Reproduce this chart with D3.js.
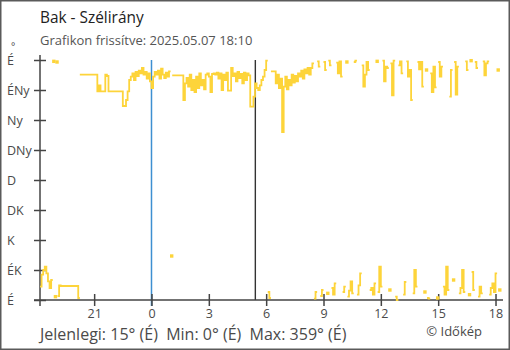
<!DOCTYPE html>
<html>
<head>
<meta charset="utf-8">
<script src="https://cdn.jsdelivr.net/npm/d3@7/dist/d3.min.js"></script>
<style>
  html, body { margin: 0; padding: 0; background: #fff; }
  svg { display: block; font-family: "Open Sans", "Noto Sans", sans-serif; }
</style>
</head>
<body>
<script>
// Station and time frame
const stationName = "Bak";
const updatedAt = "2025.05.07 18:10";
const seriesStart = "2025-05-06 18:10";
const seriesEnd = "2025-05-07 18:10";
const stepMinutes = 5;

// Wind direction (degrees), one reading every 5 minutes
// 18:10 – 23:55
const eveningDir = [20, 38, 45, 50, 40, 28, 18, 30, 358, 5, 357, 6, 22,
  21, 21, 21, 21, 21, 21, 21, 21, 21, 21, 21, 3,
  338, 338, 338, 338, 338, 338, 338, 338, 338, 338, 338,
  313, 322, 313, 313, 313, 338, 336,
  313, 313, 313, 313, 313, 313, 313, 313, 313,
  291, 291, 300, 313, 330, 335, 340, 330, 342, 336, 344, 340, 348, 338, 342, 332, 340, 328];
// 00:00 – 05:55
const nightDir = [318, 335, 342, 338, 344, 332, 347, 338, 333, 341, 335, 343, 66,
  337, 337, 337, 337, 337, 337, 337,
  300, 325, 333, 320, 338, 315, 330, 312, 335, 318, 340, 322, 330, 316, 338, 340, 335, 312,
  339, 340, 338, 341, 332, 340, 315, 338, 330, 341, 314, 314, 348,
  336, 340, 328, 342, 333, 339, 325, 341, 330, 340, 337,
  290, 290, 305, 325, 318, 315, 322, 330, 335, 345];
// 06:00 – 11:55
const morningDir = [359, 12, 3, 343, 343, 343,
  325, 338, 318, 332, 252, 320, 335, 316, 330, 322, 338, 326, 336, 328, 340, 335, 344, 332, 346, 340, 348, 338,
  348, 355, 2, 12, 358, 350, 6, 15, 357, 345, 10, 359, 352, 18, 8, 25, 356, 340, 358, 335,
  12, 20, 357, 5, 14, 28, 10, 357, 359, 8, 22, 40, 352, 320, 338, 357, 345, 15, 18, 8, 25, 358, 12, 50];
// 12:00 – 18:10
const afternoonDir = [20, 359, 328, 350, 348, 15, 355, 307, 359, 5, 0, 352, 358, 340, 8, 27, 358, 335, 345, 300,
  10, 45, 20, 357, 346, 357, 320, 12, 345, 3, 2, 340, 312, 350, 319, 3, 357, 335, 350, 20,
  8, 50, 15, 305, 345, 30, 357, 308, 350, 10, 18, 45, 12, 358, 345, 8, 359, 42, 15, 357,
  348, 5, 20, 10, 358, 337, 355, 358, 8, 18, 25, 12, 40, 345, 15];

// Axis ticks
const compassTicks = [0, 45, 90, 135, 180, 225, 270, 315, 360];
const compassLabels = ["É", "ÉK", "K", "DK", "D", "DNy", "Ny", "ÉNy", "É"];
const hourTicks = ["2025-05-06 21:00", "2025-05-07 00:00", "2025-05-07 03:00", "2025-05-07 06:00",
  "2025-05-07 09:00", "2025-05-07 12:00", "2025-05-07 15:00", "2025-05-07 18:00"];

// Vertical markers: midnight and sunrise
const midnight = "2025-05-07 00:00";
const sunrise = "2025-05-07 05:26";

const W = 510, H = 350;
const parse = d3.timeParse("%Y-%m-%d %H:%M");
const t0 = parse(seriesStart), t1 = parse(seriesEnd);
const directions = [].concat(eveningDir, nightDir, morningDir, afternoonDir);
const samples = directions.map((v, i) => ({ t: d3.timeMinute.offset(t0, i * stepMinutes), v }));

const x = d3.scaleTime().domain([t0, t1]).range([40, 498.7]);
const y = d3.scaleLinear().domain([0, 360]).range([300, 60]);

const textCol = "#4a4a4a";
const axisCol = "#444";
const lineCol = "#fdd43a";

const svg = d3.select("body").append("svg").attr("width", W).attr("height", H);

// frame
svg.append("rect").attr("x", 0.75).attr("y", 0.75).attr("width", W - 1.5).attr("height", H - 1.5)
  .attr("fill", "#fff").attr("stroke", "#5a5a5a").attr("stroke-width", 1.5);

// titles
svg.append("text").attr("x", 40).attr("y", 23).attr("font-size", 15.4).attr("fill", "#222")
  .text(stationName + " - Szélirány");
svg.append("text").attr("x", 40).attr("y", 45).attr("font-size", 13).attr("fill", "#555")
  .text("Grafikon frissítve: " + updatedAt);

// markers
svg.append("line").attr("x1", x(parse(midnight))).attr("x2", x(parse(midnight)))
  .attr("y1", 60).attr("y2", 306).attr("stroke", "#3d8fd1").attr("stroke-width", 1.5);
svg.append("line").attr("x1", x(parse(sunrise))).attr("x2", x(parse(sunrise)))
  .attr("y1", 60).attr("y2", 300).attr("stroke", "#333").attr("stroke-width", 1.4);

// y axis
const yAxis = svg.append("g").attr("transform", "translate(40,0)")
  .call(d3.axisLeft(y).tickValues(compassTicks).tickFormat((d, i) => compassLabels[i]).tickSizeOuter(0));
yAxis.select(".domain").remove();
yAxis.selectAll(".tick line").attr("x1", -6).attr("x2", 6).attr("stroke", axisCol).attr("stroke-width", 1.5);
yAxis.selectAll(".tick text").attr("x", -33).attr("text-anchor", "start")
  .attr("font-size", 12.5).attr("font-family", "Open Sans").attr("fill", textCol);
svg.append("line").attr("x1", 40).attr("x2", 40).attr("y1", 55).attr("y2", 306)
  .attr("stroke", axisCol).attr("stroke-width", 1.5);
svg.append("text").attr("x", 11).attr("y", 50).attr("font-size", 10).attr("fill", textCol).text("°");

// x axis
const xAxis = svg.append("g").attr("transform", "translate(0,300)")
  .call(d3.axisBottom(x).tickValues(hourTicks.map(parse)).tickFormat(d3.timeFormat("%-H")).tickSizeOuter(0));
xAxis.select(".domain").remove();
xAxis.selectAll(".tick line").attr("y1", -6).attr("y2", 6).attr("stroke", axisCol).attr("stroke-width", 1.5);
xAxis.selectAll(".tick text").attr("y", 18).attr("dy", 0)
  .attr("font-size", 12.5).attr("font-family", "Open Sans").attr("fill", textCol);
svg.append("line").attr("x1", 34).attr("x2", 503).attr("y1", 300).attr("y2", 300)
  .attr("stroke", axisCol).attr("stroke-width", 1.5);

// split into runs, breaking wherever the direction wraps across north
const runs = [];
let cur = [];
samples.forEach((s, i) => {
  if (i > 0 && Math.abs(s.v - samples[i - 1].v) > 180) { runs.push(cur); cur = []; }
  cur.push(s);
});
runs.push(cur);

const stepLine = d3.line().x(d => x(d.t)).y(d => y(d.v)).curve(d3.curveStepAfter);
const plot = svg.append("g");
runs.forEach(run => {
  if (run.length === 1) {
    const s = run[0];
    plot.append("rect").attr("x", x(s.t) - 0.6).attr("y", y(s.v) - 1.7)
      .attr("width", 3.4).attr("height", 3.4).attr("fill", lineCol);
  } else {
    const last = run[run.length - 1];
    const pts = run.concat([{ t: d3.timeMinute.offset(last.t, stepMinutes), v: last.v }]);
    plot.append("path").attr("d", stepLine(pts)).attr("fill", "none")
      .attr("stroke", lineCol).attr("stroke-width", 1.8);
  }
});

// summary line
const compassName = deg => compassLabels[Math.round(deg / 45) % 8];
const current = directions[directions.length - 1];
const minDir = d3.min(directions), maxDir = d3.max(directions);
svg.append("text").attr("x", 40).attr("y", 340).attr("font-size", 16).attr("fill", textCol)
  .style("white-space", "pre")
  .text(`Jelenlegi: ${current}° (${compassName(current)})  Min: ${minDir}° (${compassName(minDir)})  Max: ${maxDir}° (${compassName(maxDir)})`);
svg.append("text").attr("x", 482).attr("y", 336).attr("text-anchor", "end").attr("font-size", 13)
  .attr("fill", textCol).text("© Időkép");
</script>
</body>
</html>
